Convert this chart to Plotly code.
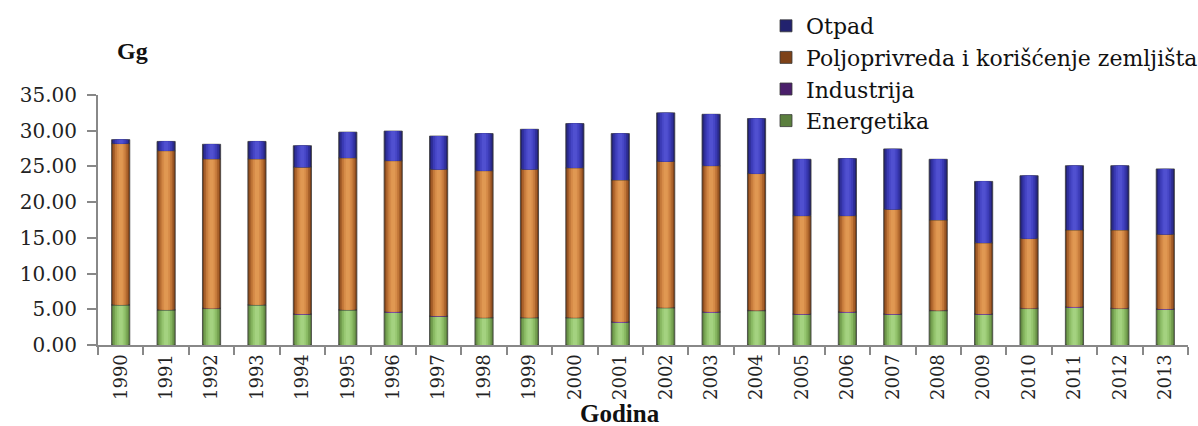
import numpy as np
import plotly.graph_objects as go

# Godišnje emisije po sektorima (Gg)
godine = [str(g) for g in range(1990, 2014)]

energetika = [5.60, 4.90, 5.10, 5.60, 4.30, 4.90, 4.60, 4.00, 3.80, 3.80, 3.80, 3.20,
              5.20, 4.60, 4.80, 4.30, 4.60, 4.30, 4.80, 4.30, 5.10, 5.30, 5.10, 5.00]
industrija = [0.05, 0.05, 0.05, 0.05, 0.05, 0.05, 0.05, 0.05, 0.05, 0.05, 0.05, 0.05,
              0.05, 0.05, 0.05, 0.05, 0.05, 0.05, 0.05, 0.05, 0.05, 0.05, 0.05, 0.05]
poljoprivreda = [22.55, 22.25, 20.90, 20.40, 20.55, 21.25, 21.15, 20.55, 20.55, 20.75,
                 20.95, 19.85, 20.45, 20.45, 19.15, 13.75, 13.45, 14.65, 12.65, 9.95,
                 9.75, 10.75, 10.95, 10.45]
otpad = [0.55, 1.30, 2.05, 2.45, 3.00, 3.60, 4.15, 4.65, 5.20, 5.60, 6.20, 6.50,
         6.80, 7.20, 7.70, 7.90, 8.00, 8.45, 8.50, 8.60, 8.80, 9.00, 9.00, 9.15]

y_ticks = [0, 5, 10, 15, 20, 25, 30, 35]

FONT = "Liberation Serif"
TICK_FONT = "DejaVu Serif"

# each sector: name, values, shades from the bar edge towards its centre
sektori = [
    ("Energetika", energetika, ["#5b7f3e", "#74a050", "#88b862", "#98c872", "#a4d280"]),
    ("Industrija", industrija, ["#4a1f6a", "#66308c", "#7a3fa2", "#8a4cb2", "#9558bc"]),
    ("Poljoprivreda i korišćenje zemljišta", poljoprivreda,
     ["#7e4218", "#a8602a", "#c4793a", "#d68b48", "#e09852"]),
    ("Otpad", otpad, ["#22226e", "#2f2f9a", "#3b3bb6", "#4646c6", "#5050d0"]),
]
sirine = [0.40, 0.33, 0.25, 0.17, 0.09]

fig = go.Figure()
baza = np.zeros(len(godine))
for ime, vrednosti, nijanse in sektori:
    v = np.array(vrednosti)
    for i, (w, c) in enumerate(zip(sirine, nijanse)):
        fig.add_trace(go.Bar(
            x=godine, y=v, base=baza, width=w, name=ime,
            marker=dict(color=c,
                        line=dict(color="#3a3a3a" if i == 0 else c, width=0.8 if i == 0 else 0)),
            showlegend=(i == 0), legendgroup=ime, hoverinfo="skip" if i else None,
        ))
    baza = baza + v

# plot area: x 98..1188, y 95..345 (pixels)
PW, PH = 1090, 250

fig.update_layout(
    barmode="overlay",
    width=1198, height=426,
    margin=dict(l=98, r=10, t=95, b=81, autoexpand=False),
    paper_bgcolor="white", plot_bgcolor="white",
    font=dict(family=FONT, color="#222222"),
    legend=dict(
        x=(766 - 98) / PW, y=1 + (95 - 5) / PH, xanchor="left", yanchor="top",
        traceorder="reversed", tracegroupgap=3,
        font=dict(family=TICK_FONT, size=22, color="#111111"),
        bgcolor="rgba(0,0,0,0)", itemwidth=30,
    ),
    xaxis=dict(
        type="category", tickangle=-90, tickson="boundaries",
        ticks="outside", ticklen=8, tickwidth=2, tickcolor="#888888",
        showline=True, linecolor="#888888", linewidth=2,
        tickfont=dict(family=TICK_FONT, size=18, color="#222222"),
        showgrid=False, zeroline=False,
    ),
    yaxis=dict(
        range=[0, 35], tickvals=y_ticks, tickformat=".2f",
        ticks="outside", ticklen=9, tickwidth=2, tickcolor="#888888",
        showline=True, linecolor="#888888", linewidth=2,
        tickfont=dict(family=TICK_FONT, size=20, color="#222222"),
        ticklabelstandoff=6,
        showgrid=False, zeroline=False,
    ),
    annotations=[
        dict(text="<b>Gg</b>", xref="paper", yref="paper", x=(132 - 98) / PW, y=1 + (95 - 51) / PH,
             xanchor="center", yanchor="middle", showarrow=False,
             font=dict(family=FONT, size=24, color="#111111")),
        dict(text="<b>Godina</b>", xref="paper", yref="paper", x=(620 - 98) / PW, y=-(413 - 345) / PH,
             xanchor="center", yanchor="middle", showarrow=False,
             font=dict(family=FONT, size=25, color="#111111")),
    ],
)

fig.write_html("out.html")
